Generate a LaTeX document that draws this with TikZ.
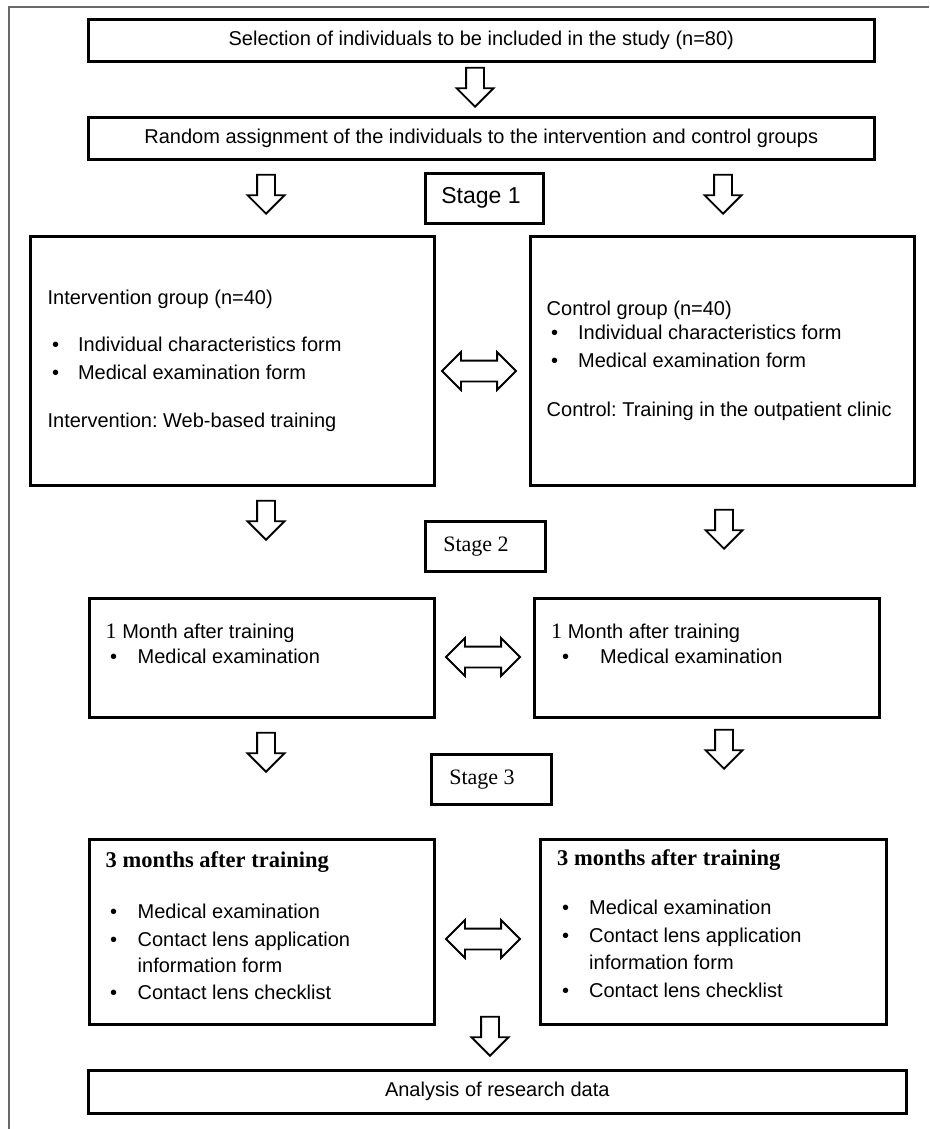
\documentclass[tikz,border=0pt]{standalone}
\usepackage{fontspec}
\setmainfont{Liberation Serif}
\setsansfont{Liberation Sans}
\usepackage{tikz}
\usetikzlibrary{positioning,shapes.arrows,calc}
\newcommand{\sansf}{\sffamily\fontsize{20}{27}\selectfont\frenchspacing}
\newcommand{\seriff}{\rmfamily\fontsize{22}{27}\selectfont}
\newcommand{\itm}[3]{\hspace*{#1pt}\makebox[#2pt][l]{\textbullet}#3}
\newcommand{\stg}[2][84pt]{\makebox[#1][l]{#2}}
\definecolor{framegray}{RGB}{105,105,105}
\tikzset{
  box/.style={draw=black, line width=2.6pt, anchor=north west, inner sep=0pt, align=center, font=\sansf},
  stagebox/.style={box, minimum height=50pt, inner xsep=18pt},
  txt/.style={anchor=base west, inner sep=0pt, align=left, font=\sansf},
  downarr/.style={single arrow, draw=black, fill=white, line width=1.8pt, inner sep=8pt,
    minimum height=39pt, minimum width=35pt, single arrow head extend=9.5pt,
    shape border rotate=270, anchor=tip},
  bothway/.style={double arrow, draw=black, fill=white, line width=1.8pt, inner sep=9.5pt,
    minimum height=74pt, minimum width=36pt, double arrow head extend=8.5pt},
  frame/.style={draw=framegray, line width=2pt},
}
\begin{document}
\begin{tikzpicture}[x=1pt,y=-1pt]
  \useasboundingbox (0,0) rectangle (929,1129);
  % page frame, only top and left edge are visible
  \draw[frame] (9,1129) -- (9,7) -- (929,7);

  \node[box, minimum width=786, minimum height=42] (sel) at (87,18) {Selection of individuals to be included in the study (n=80)};
  \node[downarr] (a0) at (475,108) {};
  \node[box, minimum width=786, minimum height=42] (rand) at (87,116) {Random assignment of the individuals to the intervention and control groups};

  % stage 1
  \node[downarr] (a1l) at (266,215) {};
  \node[downarr] (a1r) at (723,215) {};
  \node[stagebox, inner xsep=16pt, font=\sffamily\fontsize{23}{27}\selectfont] (stage1) at (424,172) {\stg[86pt]{Stage 1}};
  \node[box, minimum width=404, minimum height=249] (intv) at (29,235) {};
  \node[box, minimum width=384, minimum height=249] (ctrl) at (529,235) {};
  \node[txt] (intvtxt) at ($(intv.north west)+(18.4,192)$) {Intervention group (n=40)\\[20pt]
    \itm{4.5}{26}{Individual characteristics form}\\[1pt]
    \itm{4.5}{26}{Medical examination form}\\[21pt]
    Intervention: Web-based training};
  \node[txt] (ctrltxt) at ($(ctrl.north west)+(17.5,181)$) {Control group (n=40)\\[-3pt]
    \itm{4.5}{27}{Individual characteristics form}\\[1pt]
    \itm{4.5}{27}{Medical examination form}\\[22pt]
    Control: Training in the outpatient clinic};
  \node[bothway] (d1) at (479,371) {};

  % stage 2
  \node[downarr] (a2l) at (266,541) {};
  \node[downarr] (a2r) at (724,550) {};
  \node[stagebox, font=\seriff] (stage2) at (424,520) {\stg{Stage 2}};
  \node[box, minimum width=345, minimum height=119] (intvone) at (88,597) {};
  \node[box, minimum width=345, minimum height=119] (ctrlone) at (533,597) {};
  \node[txt] (intvonetxt) at ($(intvone.north west)+(17.5,66)$) {{\seriff 1} Month after training\\[-2pt]
    \itm{4.5}{27.5}{Medical examination}};
  \node[txt] (ctrlonetxt) at ($(ctrlone.north west)+(18,66)$) {{\seriff 1} Month after training\\[-2pt]
    \itm{11}{38}{Medical examination}};
  \node[bothway] (d2) at (483,657) {};

  % stage 3
  \node[downarr] (a3l) at (266,773) {};
  \node[downarr] (a3r) at (724,770) {};
  \node[stagebox, font=\seriff] (stage3) at (430,753) {\stg{Stage 3}};
  \node[box, minimum width=345, minimum height=185] (intvthree) at (88,838) {};
  \node[box, minimum width=346, minimum height=185] (ctrlthree) at (539,838) {};
  \node[txt] (intvthreetxt) at ($(intvthree.north west)+(17.5,161)$) {{\seriff\fontsize{22.5}{27}\selectfont\bfseries 3 months after training}\\[24pt]
    \itm{4.5}{27.5}{Medical examination}\\[1pt]
    \itm{4.5}{27.5}{Contact lens application}\\[-1pt]
    \hspace*{32pt}information form\\
    \itm{4.5}{27.5}{Contact lens checklist}};
  \node[txt] (ctrlthreetxt) at ($(ctrlthree.north west)+(18,159)$) {{\seriff\fontsize{22.5}{27}\selectfont\bfseries 3 months after training}\\[22pt]
    \itm{5}{27}{Medical examination}\\[1pt]
    \itm{5}{27}{Contact lens application}\\
    \hspace*{32pt}information form\\[1pt]
    \itm{5}{27}{Contact lens checklist}};
  \node[bothway] (d3) at (483,939) {};

  \node[downarr] (a4) at (490,1057) {};
  \node[box, minimum width=818, minimum height=43] (analysis) at (87,1069) {Analysis of research data};
\end{tikzpicture}
\end{document}
